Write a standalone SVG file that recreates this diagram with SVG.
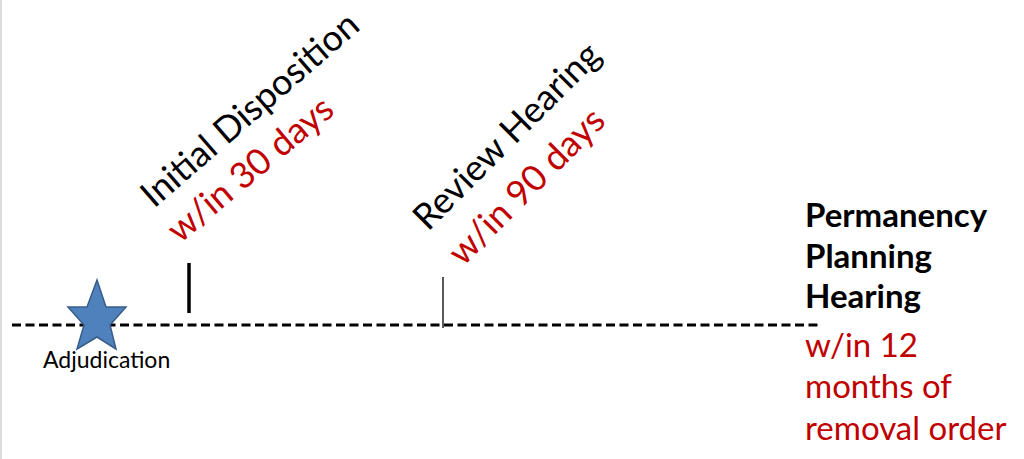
<svg xmlns="http://www.w3.org/2000/svg" width="1024" height="459" viewBox="0 0 1024 459">
  <style>
    .lbl { font-family: Lato, "Liberation Sans", sans-serif; }
    .blk { fill: #000000; }
    .red { fill: #C00000; }
    .rot { font-size: 36px; }
    .side { font-size: 33px; }
  </style>
  <rect x="0" y="0" width="1024" height="459" fill="#ffffff"/>
  <line x1="1" y1="0" x2="1" y2="459" stroke="#d0d0d0" stroke-width="1.5"/>
  <g id="connectors">
    <line x1="12" y1="325" x2="818" y2="325" stroke="#000" stroke-width="2.8" stroke-dasharray="9 4.5"/>
  </g>
  <g id="adjudication">
    <polygon points="97,280 106,307 126,307 110,325 116,349 97,337 77,349 84,325 68,307 87,307" fill="#4F81BD" stroke="#385D8A" stroke-width="1.5" stroke-linejoin="miter"/>
    <text class="lbl" x="43" y="368" font-size="23" fill="#000">Adjudication</text>
  </g>
  <g id="initial-disposition">
    <line x1="189" y1="263" x2="189" y2="313" stroke="#000" stroke-width="3.5"/>
    <text class="lbl rot blk" transform="translate(154,209) rotate(-41)">Initial Disposition</text>
    <text class="lbl rot red" transform="translate(180,244) rotate(-40)">w/in 30 days</text>
  </g>
  <g id="review-hearing">
    <line x1="443" y1="277" x2="443" y2="328" stroke="#222" stroke-width="1.5"/>
    <text class="lbl rot blk" transform="translate(428,232) rotate(-45)">Review Hearing</text>
    <text class="lbl rot red" transform="translate(463,267) rotate(-45)">w/in 90 days</text>
  </g>
  <g id="permanency-planning-hearing">
    <text class="lbl side blk" font-weight="bold" x="805">
      <tspan x="805" y="227">Permanency</tspan>
      <tspan x="805" y="268">Planning</tspan>
      <tspan x="805" y="308">Hearing</tspan>
    </text>
    <text class="lbl side red" x="805">
      <tspan x="805" y="357">w/in 12</tspan>
      <tspan x="805" y="398">months of</tspan>
      <tspan x="805" y="440">removal order</tspan>
    </text>
  </g>
</svg>
